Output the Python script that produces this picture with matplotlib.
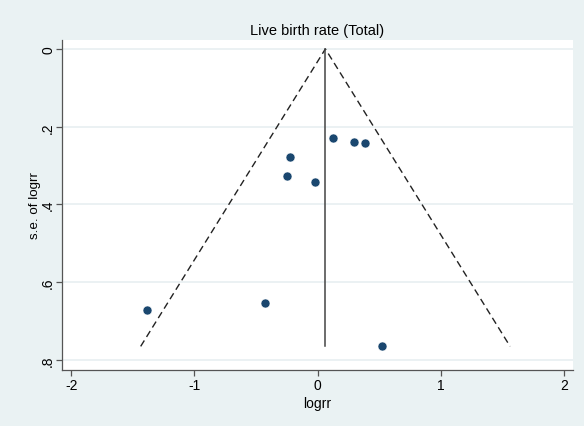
import matplotlib
matplotlib.use("Agg")
import matplotlib.pyplot as plt

# Data
logrr = [-1.385, -0.429, -0.222, -0.246, -0.019, 0.123, 0.293, 0.385, 0.525]
se_logrr = [0.671, 0.653, 0.279, 0.326, 0.343, 0.230, 0.240, 0.242, 0.765]
pooled = 0.063
se_max = 0.765
z = 1.96

xticks = [-2, -1, 0, 1, 2]
xticklabels = ["-2", "-1", "0", "1", "2"]
yticks = [0, 0.2, 0.4, 0.6, 0.8]
yticklabels = ["0", ".2", ".4", ".6", ".8"]

bg = "#EAF2F3"
marker_col = "#1A476F"

plt.rcParams["font.family"] = ["Liberation Sans", "DejaVu Sans"]

fig = plt.figure(figsize=(5.84, 4.27), dpi=100, facecolor=bg)
ax = fig.add_axes([62/584, 1 - 370.7/427, (573-62)/584, (370.7-41)/427])
ax.set_facecolor("white")

for y in yticks:
    ax.axhline(y, color="#E6EEF0", lw=1.1, zorder=0)

# funnel limits
ax.plot([pooled - z*se_max, pooled, pooled + z*se_max], [se_max, 0, se_max],
        color="#222222", lw=1.0, dashes=(5, 3), zorder=2)
ax.plot([pooled, pooled], [0, se_max], color="#444444", lw=1.1, zorder=2)

ax.scatter(logrr, se_logrr, s=42, color=marker_col, edgecolor="white",
           linewidth=0.4, zorder=3)

ax.set_xlim(-2.075, 2.073)
ax.set_ylim(0.825, -0.023)

ax.set_xticks(xticks)
ax.set_xticklabels(xticklabels, fontsize=10)
ax.set_yticks(yticks)
ax.set_yticklabels(yticklabels, fontsize=10, rotation=90, va="center")

for s in ["top", "right"]:
    ax.spines[s].set_visible(False)
for s in ["left", "bottom"]:
    ax.spines[s].set_color("#555555")
    ax.spines[s].set_linewidth(0.9)
ax.tick_params(axis="x", color="#555555", length=4, width=0.9, pad=2)
ax.tick_params(axis="y", color="#555555", length=4, width=0.9, pad=1)

ax.set_xlabel("logrr", fontsize=10, labelpad=3)
ax.set_ylabel("s.e. of logrr", fontsize=9.6, labelpad=0)
ax.set_title("Live birth rate (Total)", fontsize=10.5, pad=4)

fig.savefig("out.png", dpi=100, facecolor=bg)
